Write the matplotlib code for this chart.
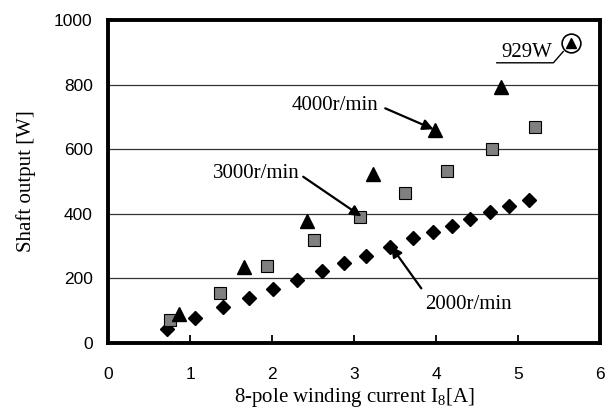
import matplotlib
matplotlib.use("Agg")
import matplotlib.pyplot as plt

# 2000 r/min (diamonds)
i_2000 = [0.72, 1.06, 1.40, 1.72, 2.01, 2.31, 2.61, 2.88, 3.15, 3.44, 3.72, 3.96, 4.19, 4.41, 4.66, 4.89, 5.13]
p_2000 = [43, 77, 111, 139, 167, 195, 224, 248, 271, 298, 324, 345, 363, 384, 406, 425, 443]

# 3000 r/min (squares)
i_3000 = [0.76, 1.36, 1.94, 2.51, 3.07, 3.62, 4.13, 4.68, 5.21]
p_3000 = [71, 156, 238, 319, 389, 465, 533, 600, 670]

# 4000 r/min (triangles)
i_4000 = [0.87, 1.66, 2.43, 3.23, 3.99, 4.79]
p_4000 = [90, 236, 378, 525, 659, 792]

# highlighted max point
i_max = [5.65]
p_max = [929]

xticks = [0, 1, 2, 3, 4, 5, 6]
yticks = [0, 200, 400, 600, 800, 1000]

serif = "Liberation Serif"
sans = "Liberation Sans"
plt.rcParams["mathtext.fontset"] = "custom"
plt.rcParams["mathtext.rm"] = serif
plt.rcParams["mathtext.it"] = serif

fig = plt.figure(figsize=(6.05, 4.12), dpi=100)
ax = fig.add_axes([0.1785, 0.1675, 0.8135, 0.7835])

for y in [200, 400, 600, 800]:
    ax.axhline(y, color="#333333", lw=0.9, zorder=1)

ax.plot(i_2000, p_2000, "D", color="black", ms=7.5, zorder=3)
ax.plot(i_3000, p_3000, "s", mfc="#808080", mec="black", mew=0.8, ms=8, zorder=3)
ax.plot(i_4000, p_4000, "^", color="black", ms=10, zorder=3)
ax.plot(i_max, p_max, "^", color="black", ms=7, zorder=4)
ax.plot(i_max, p_max, "o", mfc="none", mec="black", mew=1.2, ms=13.5, zorder=4)

ax.set_xlim(0, 6)
ax.set_ylim(0, 1000)
ax.set_xticks(xticks)
ax.set_yticks(yticks)
ax.tick_params(axis="x", direction="in", length=6, width=1.3, pad=17, labelsize=12.5)
ax.tick_params(axis="y", length=0, pad=11, labelsize=12.5)
for lab in ax.get_xticklabels() + ax.get_yticklabels():
    lab.set_family(sans)
for sp in ax.spines.values():
    sp.set_linewidth(2.8)

ax.set_xlabel("8-pole winding current I$_\\mathrm{8}$[A]", fontfamily=serif, fontsize=15, labelpad=3)
ax.set_ylabel("Shaft output [W]", fontfamily=serif, fontsize=15, labelpad=13)

arrow = dict(arrowstyle="-|>", color="black", lw=1.6, mutation_scale=16, shrinkA=0, shrinkB=0)
ax.text(2.24, 737, "4000r/min", fontfamily=serif, fontsize=15, va="center", ha="left")
ax.annotate("", xy=(3.97, 662), xytext=(3.38, 727), arrowprops=arrow)
ax.text(1.28, 526, "3000r/min", fontfamily=serif, fontsize=15, va="center", ha="left")
ax.annotate("", xy=(3.09, 392), xytext=(2.38, 515), arrowprops=arrow)
ax.text(3.87, 118, "2000r/min", fontfamily=serif, fontsize=15, va="center", ha="left")
ax.annotate("", xy=(3.45, 300), xytext=(3.82, 169), arrowprops=arrow)

ax.text(4.79, 872, "929W", fontfamily=serif, fontsize=15, va="bottom", ha="left")
ax.plot([4.74, 5.43, 5.55], [868, 868, 903], color="black", lw=1, zorder=4)

fig.savefig("out.png", dpi=100)
